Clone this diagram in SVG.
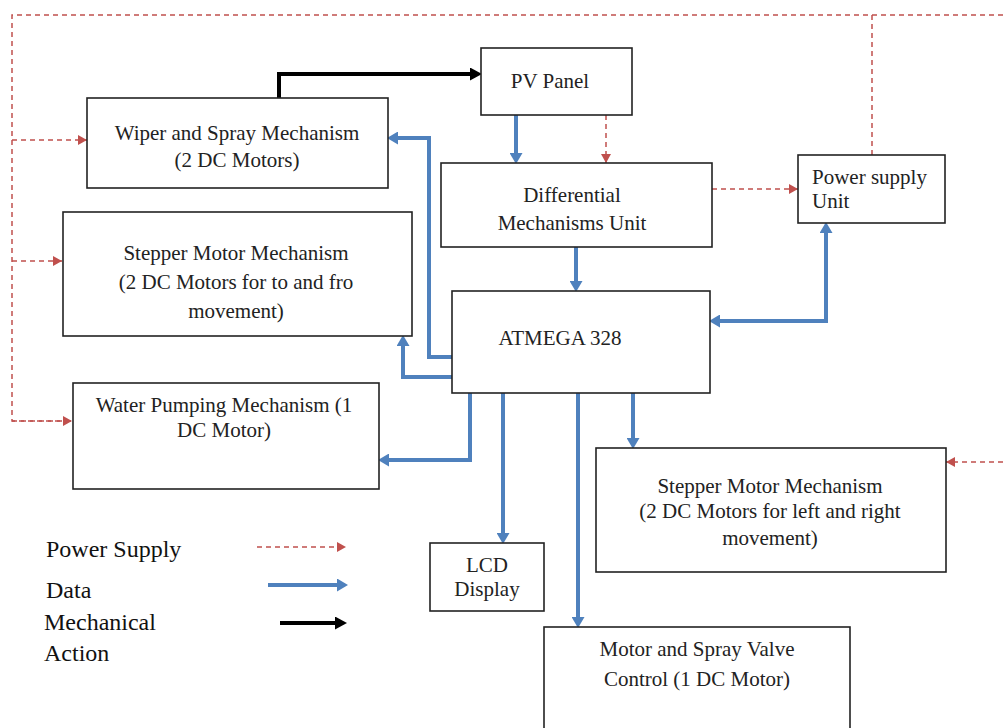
<svg xmlns="http://www.w3.org/2000/svg" width="1003" height="728" viewBox="0 0 1003 728">
<style>
.box{fill:#fff;stroke:#222;stroke-width:1.6}
.t{font-family:"Liberation Serif","Times New Roman",serif;font-size:21px;fill:#222;text-anchor:middle}
.ts{text-anchor:start}
.lg{font-family:"Liberation Serif","Times New Roman",serif;font-size:24px;fill:#111}
.data{fill:none;stroke:#4f81bd;stroke-width:4;marker-end:url(#ab)}
.pwr{fill:none;stroke:#c0504d;stroke-width:1.5;stroke-dasharray:5 4}
.pwra{marker-end:url(#ar)}
.mech{fill:none;stroke:#000;stroke-width:4;marker-end:url(#ak)}
</style>
<defs>
<marker id="ab" markerUnits="userSpaceOnUse" markerWidth="12" markerHeight="13" refX="4" refY="6.5" orient="auto-start-reverse"><path d="M0,0 L11,6.5 L0,13 Z" fill="#4f81bd"/></marker>
<marker id="ar" markerUnits="userSpaceOnUse" markerWidth="10" markerHeight="10" refX="9" refY="5" orient="auto"><path d="M0,0 L9,5 L0,10 Z" fill="#c0504d"/></marker>
<marker id="ak" markerUnits="userSpaceOnUse" markerWidth="13" markerHeight="13" refX="5" refY="6.5" orient="auto"><path d="M0,0 L12,6.5 L0,13 Z" fill="#000"/></marker>
</defs>
<rect width="1003" height="728" fill="#fff"/>

<g id="connectors">
<!-- power supply (dashed) -->
<path class="pwr" d="M872,155 V15 H12 V421 H72"/>
<path class="pwr" d="M872,15 H1003"/>
<path class="pwr pwra" d="M12,421 H72"/>
<path class="pwr pwra" d="M12,140 H87"/>
<path class="pwr pwra" d="M12,261 H62"/>
<path class="pwr pwra" d="M1003,462 H946"/>
<path class="pwr pwra" d="M606,115 V163"/>
<path class="pwr pwra" d="M712,189 H798"/>
<!-- data -->
<path class="data" d="M516,115 V157"/>
<path class="data" d="M576,247 V285"/>
<path class="data" d="M716,321 H826 V229" style="marker-start:url(#ab)"/>
<path class="data" d="M453,357 H429 V138 H394"/>
<path class="data" d="M453,377 H403 V342"/>
<path class="data" d="M470,393 V460 H385"/>
<path class="data" d="M503,393 V537"/>
<path class="data" d="M578,393 V621"/>
<path class="data" d="M633,393 V442"/>
<!-- mechanical -->
<path class="mech" d="M279,98 V74 H475"/>
</g>

<g id="wiper"><rect class="box" x="87" y="98" width="301" height="90"/>
<text class="t" x="237" y="140">Wiper and Spray Mechanism</text><text class="t" x="237" y="167">(2 DC Motors)</text></g>

<g id="pv"><rect class="box" x="481" y="48" width="151" height="67"/>
<text class="t" x="550" y="88">PV Panel</text></g>

<g id="differential"><rect class="box" x="441" y="163" width="271" height="84"/>
<text class="t" x="572" y="202">Differential</text><text class="t" x="572" y="230">Mechanisms Unit</text></g>

<g id="power"><rect class="box" x="798" y="155" width="147" height="68"/>
<text class="t ts" x="812" y="184">Power supply</text><text class="t ts" x="812" y="208">Unit</text></g>

<g id="stepper-left"><rect class="box" x="63" y="212" width="349" height="124"/>
<text class="t" x="236" y="260">Stepper Motor Mechanism</text><text class="t" x="236" y="289">(2 DC Motors for to and fro</text><text class="t" x="236" y="318">movement)</text></g>

<g id="atmega"><rect class="box" x="452" y="291" width="258" height="102"/>
<text class="t" x="560" y="345">ATMEGA 328</text></g>

<g id="water"><rect class="box" x="73" y="383" width="306" height="106"/>
<text class="t" x="224" y="412">Water Pumping Mechanism (1</text><text class="t" x="224" y="437">DC Motor)</text></g>

<g id="stepper-right"><rect class="box" x="596" y="448" width="350" height="124"/>
<text class="t" x="770" y="493">Stepper Motor Mechanism</text><text class="t" x="770" y="518">(2 DC Motors for left and right</text><text class="t" x="770" y="545">movement)</text></g>

<g id="lcd"><rect class="box" x="430" y="543" width="114" height="68"/>
<text class="t" x="487" y="572">LCD</text><text class="t" x="487" y="596">Display</text></g>

<g id="motor"><rect class="box" x="544" y="627" width="306" height="115"/>
<text class="t" x="697" y="656">Motor and Spray Valve</text><text class="t" x="697" y="686">Control (1 DC Motor)</text></g>

<g id="legend">
<text class="lg" x="46" y="557">Power Supply</text>
<text class="lg" x="46" y="598">Data</text>
<text class="lg" x="44" y="630">Mechanical</text>
<text class="lg" x="44" y="661">Action</text>
<path class="pwr pwra" d="M257,547 H346"/>
<path class="data" d="M268,585 H341"/>
<path class="mech" d="M280,623 H340"/>
</g>
</svg>
